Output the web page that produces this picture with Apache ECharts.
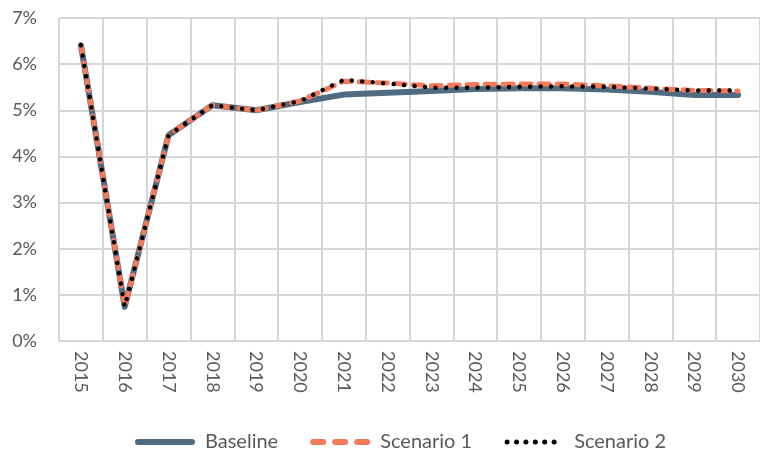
<!DOCTYPE html>
<html>
<head>
<meta charset="utf-8">
<script src="https://cdn.jsdelivr.net/npm/echarts@6/dist/echarts.min.js"></script>
<style>
  html, body { margin: 0; padding: 0; background: #fff; }
  #chart { width: 760px; height: 457px; }
</style>
</head>
<body>
<div id="chart"></div>
<script>
// 年份与三条情景曲线（单位：%）
var years = ['2015', '2016', '2017', '2018', '2019', '2020', '2021', '2022',
             '2023', '2024', '2025', '2026', '2027', '2028', '2029', '2030'];
var baseline = [6.41, 0.74, 4.46, 5.11, 5.0, 5.18, 5.34, 5.38, 5.42, 5.46, 5.48, 5.48, 5.45, 5.40, 5.33, 5.33];
var scenario1 = [6.41, 0.74, 4.46, 5.11, 5.0, 5.2, 5.63, 5.59, 5.53, 5.56, 5.57, 5.57, 5.53, 5.48, 5.43, 5.42];
var scenario2 = [6.41, 0.74, 4.46, 5.11, 5.0, 5.2, 5.66, 5.58, 5.49, 5.49, 5.51, 5.52, 5.51, 5.47, 5.43, 5.43];

var myChart = echarts.init(document.getElementById('chart'));
var font = 'Lato, "Open Sans", sans-serif';
var gridColor = '#d6d6d6';

// 图例图标：实线、虚线、圆点
var iconSolid = 'path://M3,0L57,0A3,3 0 0 1 57,6L3,6A3,3 0 0 1 3,0Z';
var iconDash = 'path://M3,0L13,0A3,3 0 0 1 13,6L3,6A3,3 0 0 1 3,0Z' +
    'M25,0L35,0A3,3 0 0 1 35,6L25,6A3,3 0 0 1 25,0Z' +
    'M47,0L57,0A3,3 0 0 1 57,6L47,6A3,3 0 0 1 47,0Z';
var dots = '';
for (var i = 0; i < 6; i++) {
    var cx = 3 + i * 9.4;
    dots += 'M' + (cx - 2.5) + ',3A2.5,2.5 0 1 1 ' + (cx + 2.5) + ',3A2.5,2.5 0 1 1 ' + (cx - 2.5) + ',3Z';
}
var iconDots = 'path://M0,0L0,0M60,6L60,6' + dots;

var option = {
    animation: false,
    textStyle: { fontFamily: font },
    grid: { left: 59, top: 18, width: 704, height: 323 },
    legend: {
        bottom: 0,
        left: 130,
        itemWidth: 60,
        itemHeight: 6,
        itemGap: 32,
        textStyle: { fontSize: 20, color: '#595959', fontFamily: font, padding: [0, 0, 0, 5] },
        data: [
            { name: 'Baseline', icon: iconSolid },
            { name: 'Scenario 1', icon: iconDash },
            { name: 'Scenario 2', icon: iconDots }
        ]
    },
    xAxis: {
        type: 'category',
        data: years,
        boundaryGap: true,
        axisLine: { lineStyle: { color: gridColor, width: 2 } },
        axisTick: { show: false },
        splitLine: { show: true, lineStyle: { color: gridColor, width: 2 } },
        axisLabel: {
            rotate: -90,
            margin: 10,
            fontSize: 18,
            color: '#595959',
            fontFamily: font
        }
    },
    yAxis: {
        type: 'value',
        min: 0,
        max: 7,
        interval: 1,
        axisLine: { show: false },
        axisTick: { show: false },
        splitLine: { lineStyle: { color: gridColor, width: 2 } },
        axisLabel: {
            formatter: '{value}%',
            margin: 22,
            fontSize: 18,
            color: '#595959',
            fontFamily: font
        }
    },
    series: [{
        name: 'Baseline',
        type: 'line',
        data: baseline,
        symbol: 'none',
        lineStyle: { color: '#4e6b81', width: 6, cap: 'round', join: 'round' },
        itemStyle: { color: '#4e6b81' }
    }, {
        name: 'Scenario 1',
        type: 'line',
        data: scenario1,
        symbol: 'none',
        lineStyle: { color: '#f47a5a', width: 5, type: [10, 8], cap: 'round', join: 'round' },
        itemStyle: { color: '#f47a5a' }
    }, {
        name: 'Scenario 2',
        type: 'line',
        data: scenario2,
        symbol: 'none',
        lineStyle: { color: '#000000', width: 4.5, type: [0.01, 10.5], cap: 'round', join: 'round' },
        itemStyle: { color: '#000000' }
    }]
};

myChart.setOption(option);
</script>
</body>
</html>
